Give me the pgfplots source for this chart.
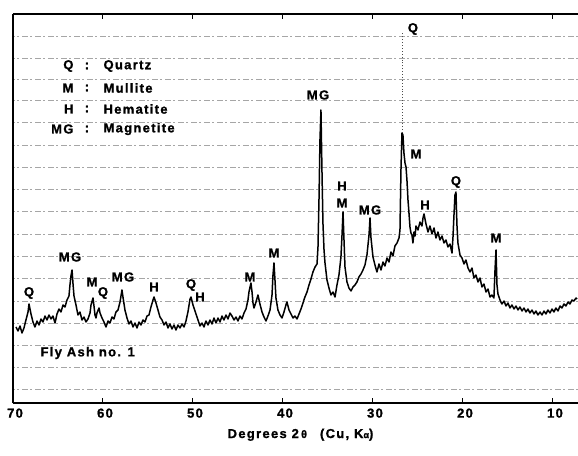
\documentclass[border=0pt]{standalone}
\usepackage{fontspec}
\setmainfont{Liberation Sans}[LetterSpace=10, BoldFont={Liberation Sans Bold}, BoldFeatures={FakeBold=1.2}]
\usepackage{pgfplots}
\pgfplotsset{compat=1.18}
\pgfplotstableread{
deg v
69.67 76
69.44 72
69.22 77
69.00 70
68.78 75
68.56 83
68.33 91
68.22 99
68.00 89
67.78 81
67.56 76
67.33 82
67.11 78
66.89 84
66.67 81
66.44 87
66.22 83
66.00 88
65.78 84
65.56 87
65.33 80
65.11 89
64.89 94
64.67 91
64.44 98
64.22 96
64.00 103
63.78 107
63.67 118
63.56 127
63.44 133
63.33 119
63.22 107
63.00 98
62.78 88
62.56 91
62.33 83
62.11 86
61.89 81
61.67 84
61.44 90
61.33 98
61.11 105
61.00 97
60.89 88
60.78 85
60.67 90
60.44 95
60.33 90
60.11 85
59.89 81
59.67 76
59.44 82
59.22 80
59.00 86
58.78 84
58.56 91
58.33 93
58.11 101
57.89 113
57.78 106
57.56 93
57.33 85
57.11 79
56.89 82
56.67 76
56.44 80
56.22 75
56.00 81
55.78 78
55.56 83
55.33 81
55.11 87
54.89 88
54.67 96
54.44 103
54.33 106
54.11 100
53.89 93
53.67 86
53.44 83
53.22 78
53.00 81
52.78 75
52.56 79
52.33 74
52.11 78
51.89 73
51.67 78
51.44 75
51.22 79
51.00 76
50.78 82
50.56 91
50.33 104
50.22 106
50.00 98
49.89 95
49.67 89
49.44 83
49.22 77
49.00 80
48.78 76
48.56 82
48.33 78
48.11 83
47.89 79
47.67 85
47.44 80
47.22 85
47.00 81
46.78 87
46.56 83
46.33 88
46.11 84
45.89 90
45.67 87
45.44 83
45.22 86
45.00 82
44.78 87
44.56 84
44.33 90
44.11 94
43.89 103
43.78 111
43.56 120
43.44 111
43.33 100
43.22 95
43.00 101
42.78 108
42.56 99
42.33 91
42.11 86
41.89 82
41.67 87
41.44 93
41.22 108
41.11 128
41.00 140
40.89 123
40.78 105
40.56 93
40.33 88
40.11 85
39.89 91
39.67 98
39.56 101
39.33 93
39.11 89
38.89 85
38.67 87
38.44 84
38.22 89
38.00 94
37.78 100
37.56 106
37.33 111
37.11 118
36.89 124
36.67 131
36.44 136
36.22 139
36.11 156
36.00 203
35.89 263
35.78 293
35.67 233
35.56 180
35.44 153
35.33 140
35.11 123
34.89 115
34.67 108
34.44 111
34.22 106
34.00 118
33.78 128
33.56 146
33.44 168
33.33 191
33.22 163
33.11 136
32.89 121
32.67 115
32.44 112
32.22 116
32.00 118
31.78 121
31.56 126
31.33 129
31.11 133
30.89 138
30.67 148
30.44 168
30.33 185
30.22 165
30.00 146
29.78 138
29.56 131
29.33 139
29.11 133
28.89 141
28.67 137
28.44 145
28.22 141
28.00 151
27.78 147
27.56 157
27.33 160
27.11 165
27.00 173
26.89 233
26.78 270
26.67 268
26.56 250
26.44 240
26.33 236
26.22 222
26.11 203
26.00 190
25.89 176
25.78 170
25.67 168
25.56 160
25.44 171
25.33 167
25.22 177
25.00 173
24.78 181
24.56 177
24.44 185
24.33 189
24.11 179
23.89 171
23.67 177
23.44 169
23.22 175
23.00 165
22.78 171
22.56 163
22.33 167
22.11 160
21.89 163
21.67 156
21.44 159
21.22 150
21.11 166
21.00 188
20.89 208
20.78 211
20.67 178
20.56 160
20.33 148
20.11 145
19.89 139
19.67 143
19.44 135
19.22 131
19.00 135
18.78 125
18.56 128
18.33 121
18.11 125
17.89 116
17.67 119
17.44 111
17.22 114
17.00 106
16.78 108
16.56 105
16.44 133
16.33 153
16.22 118
16.11 109
15.89 103
15.67 99
15.44 102
15.22 97
15.00 100
14.78 95
14.56 98
14.33 94
14.11 97
13.89 93
13.67 96
13.44 92
13.22 95
13.00 91
12.78 94
12.56 90
12.33 93
12.11 89
11.89 92
11.67 88
11.44 91
11.22 88
11.00 92
10.78 89
10.56 93
10.33 90
10.11 94
9.89 91
9.67 95
9.44 92
9.22 97
9.00 95
8.78 99
8.56 97
8.33 101
8.11 99
7.89 103
7.67 102
7.44 105
7.33 104
}\xrd
\pgfplotstableread{
deg v
26.78 270
26.78 371
}\qtop
\begin{document}
\begin{tikzpicture}
\newcommand{\lf}{\bfseries\fontsize{13}{15}\selectfont}
\begin{axis}[
  scale only axis, width=565pt, height=389pt,
  x dir=reverse, xmin=7.22, xmax=70, ymin=0, ymax=389,
  axis y line*=left,
  axis line style={line width=1.3pt},
  xtick={10,20,30,40,50,60,70},
  xticklabels={10,20,30,40,50,60,70},
  xtick pos=both, tick align=inside,
  major tick length=5pt,
  x tick style={line width=1pt, black},
  ytick={14,36,58,80,102,125,147,169,192,214,236,258,281,303,324,345,367},
  yticklabels={},
  y tick style={draw=none},
  ymajorgrids,
  grid style={black!35, line width=0.7pt, dash pattern=on 1.5pt off 2.5pt on 6pt off 3pt},
  /pgf/number format/assume math mode=true,
  xticklabel style={font=\lf, yshift=-2pt, xshift=2pt},
  xlabel={Degrees 2\,{\fontsize{11}{13}\selectfont θ}\quad (Cu, K{\fontsize{9}{11}\selectfont α})},
  xlabel style={font=\lf, yshift=-4pt, xshift=5pt},
  clip=true,
]
\addplot[black, line width=1.5pt, line join=round] table[x=deg, y=v] {\xrd};
\addplot[black!70, line width=0.9pt, dotted] table[x=deg, y=v] {\qtop};
% peak labels
\begin{scope}[every node/.style={font=\lf}]
\node at (axis cs:68.22,110) {Q};
\node at (axis cs:63.67,146) {MG};
\node at (axis cs:61.22,121) {M};
\node at (axis cs:60.00,110) {Q};
\node at (axis cs:57.78,126) {MG};
\node at (axis cs:54.33,116) {H};
\node at (axis cs:50.22,118) {Q};
\node at (axis cs:49.22,106) {H};
\node at (axis cs:43.67,126) {M};
\node at (axis cs:41.00,150) {M};
\node at (axis cs:36.11,308) {MG};
\node at (axis cs:33.44,217) {H};
\node at (axis cs:33.44,200) {M};
\node at (axis cs:30.33,193) {MG};
\node at (axis cs:25.22,249) {M};
\node at (axis cs:24.22,198) {H};
\node at (axis cs:25.56,374) {Q};
\node at (axis cs:20.78,221) {Q};
\node at (axis cs:16.33,165) {M};
% legend
\node[anchor=east] at (axis cs:62.89,337) {Q};
\node[anchor=east] at (axis cs:62.89,315) {M};
\node[anchor=east] at (axis cs:62.89,294) {H};
\node[anchor=east] at (axis cs:62.89,274) {MG};
\node at (axis cs:61.78,337) {:};
\node at (axis cs:61.78,315) {:};
\node at (axis cs:61.78,294) {:};
\node at (axis cs:61.78,274) {:};
\node[anchor=west] at (axis cs:60.33,337) {Quartz};
\node[anchor=west] at (axis cs:60.33,315) {Mullite};
\node[anchor=west] at (axis cs:60.33,294) {Hematite};
\node[anchor=west] at (axis cs:60.33,274) {Magnetite};
\node[anchor=west] at (axis cs:67.33,50) {Fly Ash no. 1};
\end{scope}
\end{axis}
\pgfresetboundingbox
\path[use as bounding box] ([shift={(-13pt,-52pt)}]current axis.south west) rectangle ([shift={(0pt,14pt)}]current axis.north east);
\end{tikzpicture}
\end{document}
